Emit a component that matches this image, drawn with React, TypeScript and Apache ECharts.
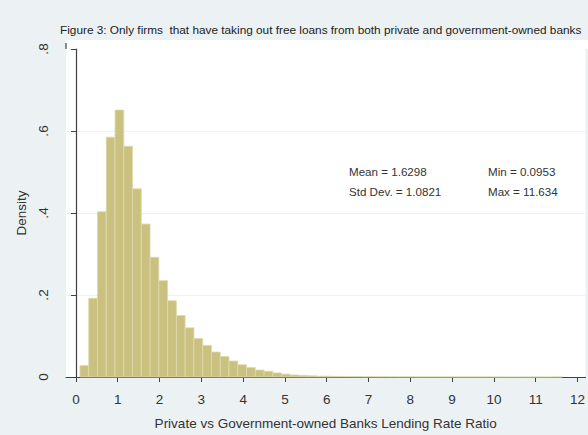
import React, { useEffect, useRef } from "react";
import * as echarts from "echarts";

const titleText =
  "Figure 3: Only firms  that have taking out free loans from both private and government-owned banks";
const xAxisTitle = "Private vs Government-owned Banks Lending Rate Ratio";
const yAxisTitle = "Density";
const xTickValues = [0, 1, 2, 3, 4, 5, 6, 7, 8, 9, 10, 11, 12];
const yTickLabels = ["0", ".2", ".4", ".6", ".8"];
const statLines = [
  ["Mean = 1.6298", "Min = 0.0953"],
  ["Std Dev. = 1.0821", "Max = 11.634"],
];
const binStart = 0.0953;
const binEnd = 11.634;
const density = [
  0.028, 0.192, 0.403, 0.585, 0.651, 0.563, 0.459, 0.373, 0.292, 0.235,
  0.186, 0.15, 0.12, 0.094, 0.077, 0.061, 0.05, 0.039, 0.03, 0.023,
  0.017, 0.014, 0.01, 0.007, 0.005, 0.004, 0.003, 0.002, 0.002, 0.0015,
  0.0012, 0.001, 0.0008, 0.0007, 0.0006, 0.0005, 0.0004, 0.0004, 0.0003, 0.0003,
  0.0002, 0.0002, 0.0002, 0.0001, 0.0001, 0.0001, 0.0001, 0, 0, 0,
  0, 0, 0, 0, 0.0001,
];

export default function App() {
  const ref = useRef<HTMLDivElement>(null);
  useEffect(() => {
    if (!ref.current) return;
    const chart = echarts.init(ref.current, null, { renderer: "svg" });
    const w = (binEnd - binStart) / density.length;
    const data = density.map((d, i) => [binStart + i * w, binStart + (i + 1) * w, d]);
    const font = "Liberation Sans, Arial, sans-serif";
    chart.setOption({
      animation: false,
      backgroundColor: "#ECF1F4",
      textStyle: { fontFamily: font },
      grid: {
        left: 66,
        right: 0,
        top: 49,
        bottom: 53,
        show: true,
        backgroundColor: "#ffffff",
        borderWidth: 0,
      },
      graphic: [
        {
          type: "rect",
          shape: { x: 66, y: 40, width: 522, height: 9 },
          style: { fill: "#ffffff" },
          silent: true,
        },
        {
          type: "line",
          shape: { x1: 66, y1: 43, x2: 66, y2: 49 },
          style: { stroke: "#404040", lineWidth: 1.2 },
          silent: true,
        },
        {
          type: "text",
          x: 60,
          y: 30,
          style: {
            text: titleText,
            font: `11.8px ${font}`,
            fill: "#222",
            textVerticalAlign: "middle",
          },
        },
        ...statLines.flatMap((row, r) => [
          {
            type: "text",
            x: 349,
            y: 171 + r * 20,
            style: { text: row[0], font: `11.6px ${font}`, fill: "#333", textVerticalAlign: "middle" },
          },
          {
            type: "text",
            x: 488,
            y: 171 + r * 20,
            style: { text: row[1], font: `11.6px ${font}`, fill: "#333", textVerticalAlign: "middle" },
          },
        ]),
      ],
      xAxis: {
        type: "value",
        min: -0.238,
        max: 12.19,
        name: xAxisTitle,
        nameLocation: "middle",
        nameGap: 39,
        nameTextStyle: { fontSize: 13.5, color: "#333", fontFamily: font },
        axisLine: { show: true, onZero: false, lineStyle: { color: "#404040", width: 1.2 } },
        axisTick: { show: true, length: 5, lineStyle: { color: "#404040" }, customValues: xTickValues },
        axisLabel: {
          fontSize: 13.5,
          color: "#333",
          margin: 15,
          customValues: xTickValues,
          fontFamily: font,
        },
        splitLine: { show: false },
      },
      yAxis: {
        type: "value",
        min: 0,
        max: 0.8,
        interval: 0.2,
        name: yAxisTitle,
        nameLocation: "middle",
        nameGap: 34,
        nameRotate: 90,
        nameTextStyle: { fontSize: 13.5, color: "#333", fontFamily: font },
        axisLine: { show: true, lineStyle: { color: "#404040", width: 1.2 } },
        axisTick: { show: true, length: 5, lineStyle: { color: "#404040" } },
        axisLabel: {
          fontSize: 13.5,
          color: "#333",
          rotate: 90,
          margin: 16,
          fontFamily: font,
          formatter: (v: number) => yTickLabels[Math.round(v / 0.2)] ?? "",
        },
        splitLine: {
          show: true,
          showMinLine: false,
          showMaxLine: false,
          lineStyle: { color: "#ECF1F4", width: 1 },
        },
      },
      series: [
        {
          type: "custom",
          data,
          encode: { x: [0, 1], y: 2 },
          renderItem: (params: any, api: any) => {
            const p0 = api.coord([api.value(0), api.value(2)]);
            const p1 = api.coord([api.value(1), 0]);
            return {
              type: "rect",
              shape: { x: p0[0], y: p0[1], width: p1[0] - p0[0], height: p1[1] - p0[1] },
              style: { fill: "#CAC181", stroke: "#DED9AC", lineWidth: 0.8 },
            };
          },
        },
      ],
    });
    return () => chart.dispose();
  }, []);
  return (
    <div
      ref={ref}
      style={{ position: "fixed", left: 0, top: 0, width: 588, height: 435 }}
    />
  );
}
